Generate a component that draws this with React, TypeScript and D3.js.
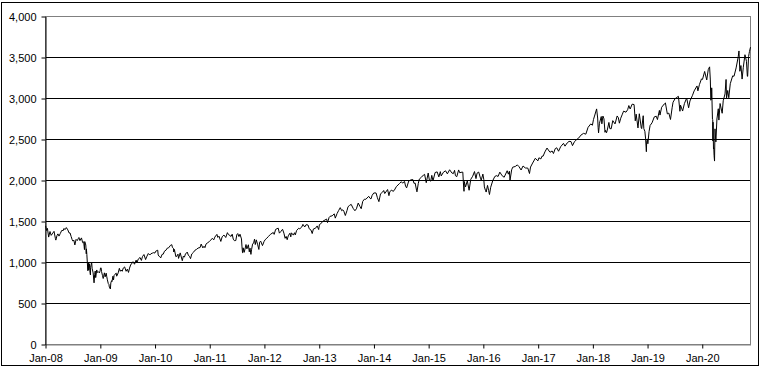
import React, { useRef, useEffect } from "react";
import * as d3 from "d3";

// S&P 500 level: [month-day, value] per year
const y2008: [string, number][] = [
  ["01-02", 1447], ["01-08", 1390], ["01-14", 1416], ["01-22", 1310], ["01-31", 1378],
  ["02-08", 1331], ["02-15", 1349], ["02-27", 1380], ["03-07", 1293], ["03-10", 1273],
  ["03-18", 1330], ["03-24", 1349], ["03-31", 1322], ["04-09", 1355], ["04-18", 1390],
  ["04-29", 1391], ["05-02", 1413], ["05-12", 1403], ["05-19", 1426], ["05-29", 1398],
  ["06-06", 1361], ["06-13", 1360], ["06-20", 1318], ["06-27", 1278], ["07-02", 1261],
  ["07-08", 1273], ["07-15", 1214], ["07-23", 1282], ["07-31", 1267], ["08-08", 1296],
  ["08-11", 1305], ["08-18", 1267], ["08-28", 1300], ["09-05", 1242], ["09-12", 1252],
  ["09-15", 1192], ["09-17", 1157], ["09-19", 1255], ["09-26", 1213], ["09-29", 1106],
  ["09-30", 1166], ["10-03", 1099], ["10-09", 910], ["10-10", 899], ["10-13", 1003],
  ["10-15", 908], ["10-20", 985], ["10-24", 877], ["10-27", 848], ["10-28", 941],
  ["11-04", 1005], ["11-07", 930], ["11-14", 873], ["11-20", 752], ["11-24", 852],
  ["11-28", 896], ["12-01", 816], ["12-08", 909], ["12-12", 879], ["12-19", 887],
  ["12-26", 873], ["12-31", 903],
];
const y2009: [string, number][] = [
  ["01-02", 932], ["01-06", 935], ["01-09", 890], ["01-15", 843], ["01-20", 805],
  ["01-23", 832], ["01-28", 874], ["02-02", 825], ["02-09", 870], ["02-13", 826],
  ["02-17", 789], ["02-23", 743], ["02-27", 735], ["03-02", 700], ["03-09", 677],
  ["03-12", 751], ["03-17", 778], ["03-20", 768], ["03-26", 833], ["03-30", 788],
  ["04-03", 843], ["04-09", 857], ["04-17", 870], ["04-20", 833], ["04-30", 873],
  ["05-08", 929], ["05-14", 893], ["05-19", 908], ["05-27", 893], ["06-03", 932],
  ["06-12", 946], ["06-22", 893], ["06-30", 919], ["07-08", 879], ["07-15", 932],
  ["07-24", 979], ["07-31", 987], ["08-07", 1010], ["08-17", 979], ["08-28", 1029],
  ["09-02", 995], ["09-11", 1042], ["09-23", 1061], ["10-02", 1025], ["10-09", 1071],
  ["10-19", 1097], ["10-30", 1036], ["11-06", 1069], ["11-17", 1110], ["11-27", 1091],
  ["12-04", 1106], ["12-14", 1114], ["12-23", 1120], ["12-31", 1115],
];
const y2010: [string, number][] = [
  ["01-05", 1137], ["01-19", 1150], ["01-22", 1092], ["01-29", 1074], ["02-05", 1066],
  ["02-08", 1056], ["02-17", 1099], ["02-25", 1102], ["03-05", 1138], ["03-15", 1150],
  ["03-23", 1174], ["04-01", 1178], ["04-15", 1211], ["04-23", 1217], ["04-27", 1183],
  ["05-04", 1173], ["05-06", 1128], ["05-10", 1160], ["05-20", 1071], ["05-25", 1074],
  ["06-03", 1102], ["06-07", 1050], ["06-18", 1117], ["06-29", 1041], ["07-02", 1022],
  ["07-09", 1078], ["07-16", 1065], ["07-23", 1103], ["08-04", 1127], ["08-11", 1090],
  ["08-20", 1071], ["08-26", 1047], ["09-03", 1104], ["09-15", 1125], ["09-24", 1149],
  ["10-05", 1160], ["10-15", 1176], ["10-29", 1183], ["11-05", 1225], ["11-16", 1178],
  ["11-24", 1198], ["11-30", 1181], ["12-07", 1224], ["12-15", 1236], ["12-31", 1258],
];
const y2011: [string, number][] = [
  ["01-07", 1271], ["01-18", 1295], ["01-28", 1276], ["02-04", 1310], ["02-18", 1343],
  ["02-24", 1306], ["03-04", 1321], ["03-16", 1257], ["03-25", 1314], ["04-06", 1335],
  ["04-18", 1305], ["04-29", 1364], ["05-06", 1340], ["05-16", 1329], ["05-23", 1317],
  ["05-31", 1345], ["06-07", 1285], ["06-15", 1266], ["06-24", 1268], ["07-01", 1340],
  ["07-07", 1353], ["07-15", 1316], ["07-22", 1345], ["08-01", 1287], ["08-04", 1200],
  ["08-08", 1119], ["08-10", 1121], ["08-12", 1179], ["08-19", 1124], ["08-26", 1177],
  ["08-31", 1219], ["09-06", 1166], ["09-16", 1216], ["09-22", 1130], ["09-27", 1175],
  ["10-03", 1099], ["10-07", 1155], ["10-14", 1224], ["10-21", 1238], ["10-27", 1285],
  ["11-01", 1219], ["11-08", 1276], ["11-17", 1216], ["11-25", 1159], ["11-30", 1247],
  ["12-07", 1261], ["12-19", 1206], ["12-30", 1258],
];
const y2012: [string, number][] = [
  ["01-06", 1278], ["01-13", 1289], ["01-27", 1316], ["02-10", 1343], ["02-29", 1366],
  ["03-06", 1343], ["03-16", 1404], ["04-02", 1419], ["04-10", 1358], ["04-20", 1379],
  ["05-01", 1405], ["05-10", 1358], ["05-18", 1295], ["05-25", 1318], ["06-01", 1278],
  ["06-08", 1325], ["06-19", 1357], ["06-25", 1313], ["06-29", 1362], ["07-12", 1334],
  ["07-20", 1363], ["07-25", 1337], ["08-03", 1391], ["08-17", 1418], ["08-24", 1411],
  ["09-06", 1432], ["09-14", 1465], ["09-26", 1433], ["10-05", 1461], ["10-18", 1457],
  ["10-26", 1411], ["11-07", 1395], ["11-15", 1353], ["11-23", 1409], ["12-07", 1418],
  ["12-18", 1446], ["12-28", 1402],
];
const y2013: [string, number][] = [
  ["01-02", 1462], ["01-11", 1472], ["01-25", 1503], ["02-08", 1518], ["02-19", 1530],
  ["02-25", 1487], ["03-08", 1551], ["03-14", 1563], ["03-28", 1569], ["04-11", 1593],
  ["04-18", 1541], ["04-30", 1597], ["05-10", 1633], ["05-21", 1669], ["05-31", 1631],
  ["06-07", 1643], ["06-14", 1626], ["06-24", 1573], ["07-05", 1632], ["07-12", 1680],
  ["07-22", 1696], ["08-02", 1709], ["08-15", 1661], ["08-27", 1631], ["09-06", 1655],
  ["09-18", 1725], ["09-30", 1682], ["10-08", 1656], ["10-18", 1745], ["10-29", 1772],
  ["11-08", 1771], ["11-27", 1807], ["12-05", 1785], ["12-12", 1775], ["12-20", 1819],
  ["12-31", 1848],
];
const y2014: [string, number][] = [
  ["01-15", 1848], ["01-24", 1790], ["02-03", 1742], ["02-14", 1838], ["02-28", 1859],
  ["03-07", 1878], ["03-14", 1841], ["04-02", 1890], ["04-11", 1815], ["04-17", 1865],
  ["04-30", 1884], ["05-07", 1867], ["05-16", 1878], ["05-30", 1924], ["06-20", 1963],
  ["07-03", 1985], ["07-11", 1968], ["07-24", 1988], ["07-31", 1931], ["08-07", 1910],
  ["08-21", 1993], ["09-05", 2008], ["09-18", 2011], ["09-25", 1966], ["10-03", 1968],
  ["10-13", 1875], ["10-15", 1862], ["10-24", 1965], ["10-31", 2018], ["11-14", 2040],
  ["11-28", 2068], ["12-05", 2075], ["12-16", 1973], ["12-29", 2091],
];
const y2015: [string, number][] = [
  ["01-06", 2003], ["01-15", 1992], ["01-22", 2063], ["01-30", 1995], ["02-13", 2097],
  ["02-27", 2105], ["03-10", 2044], ["03-20", 2108], ["03-26", 2056], ["04-10", 2102],
  ["04-24", 2118], ["05-06", 2081], ["05-21", 2131], ["06-05", 2092], ["06-15", 2084],
  ["06-23", 2124], ["06-29", 2058], ["07-08", 2047], ["07-20", 2129], ["07-28", 2093],
  ["08-05", 2100], ["08-17", 2102], ["08-21", 1971], ["08-25", 1868], ["08-27", 1988],
  ["09-04", 1921], ["09-16", 1996], ["09-28", 1881], ["10-09", 2014], ["10-22", 2052],
  ["11-03", 2109], ["11-13", 2023], ["11-20", 2089], ["12-01", 2103], ["12-14", 2021],
  ["12-18", 2005], ["12-29", 2078],
];
const y2016: [string, number][] = [
  ["01-04", 2012], ["01-08", 1922], ["01-15", 1880], ["01-20", 1859], ["01-29", 1940],
  ["02-05", 1880], ["02-11", 1829], ["02-19", 1917], ["03-04", 1999], ["03-18", 2050],
  ["03-31", 2060], ["04-08", 2048], ["04-20", 2102], ["05-06", 2057], ["05-19", 2040],
  ["06-08", 2119], ["06-16", 2077], ["06-23", 2113], ["06-27", 2001], ["07-08", 2130],
  ["07-15", 2162], ["08-01", 2171], ["08-15", 2190], ["08-26", 2169], ["09-09", 2128],
  ["09-22", 2177], ["10-07", 2153], ["10-24", 2151], ["11-04", 2085], ["11-11", 2164],
  ["11-25", 2213], ["12-13", 2271], ["12-30", 2239],
];
const y2017: [string, number][] = [
  ["01-06", 2277], ["01-19", 2263], ["01-26", 2296], ["02-03", 2297], ["02-15", 2349],
  ["03-01", 2396], ["03-10", 2372], ["03-21", 2344], ["04-04", 2360], ["04-13", 2329],
  ["04-25", 2389], ["05-05", 2399], ["05-17", 2357], ["05-31", 2412], ["06-09", 2432],
  ["06-19", 2453], ["06-29", 2419], ["07-14", 2459], ["07-26", 2477], ["08-08", 2475],
  ["08-18", 2425], ["08-31", 2472], ["09-15", 2500], ["09-29", 2519], ["10-13", 2553],
  ["10-31", 2575], ["11-15", 2565], ["11-30", 2648], ["12-18", 2690], ["12-29", 2674],
];
const y2018: [string, number][] = [
  ["01-05", 2743], ["01-12", 2786], ["01-26", 2873], ["02-02", 2762], ["02-05", 2649],
  ["02-08", 2581], ["02-14", 2698], ["02-26", 2780], ["03-02", 2691], ["03-09", 2786],
  ["03-16", 2752], ["03-23", 2588], ["03-27", 2612], ["04-02", 2582], ["04-06", 2605],
  ["04-18", 2708], ["04-24", 2634], ["05-03", 2630], ["05-14", 2730], ["05-29", 2690],
  ["06-12", 2787], ["06-20", 2767], ["06-27", 2699], ["07-06", 2760], ["07-17", 2809],
  ["07-25", 2846], ["08-10", 2833], ["08-21", 2863], ["08-29", 2914], ["09-07", 2872],
  ["09-20", 2931], ["10-03", 2926], ["10-11", 2728], ["10-17", 2809], ["10-29", 2641],
  ["11-07", 2814], ["11-20", 2641], ["11-23", 2633], ["12-03", 2790], ["12-07", 2633],
  ["12-14", 2600], ["12-19", 2507], ["12-24", 2351], ["12-26", 2468], ["12-31", 2507],
];
const y2019: [string, number][] = [
  ["01-03", 2448], ["01-11", 2596], ["01-18", 2671], ["01-31", 2704], ["02-15", 2776],
  ["02-28", 2784], ["03-08", 2743], ["03-21", 2855], ["03-25", 2798], ["04-05", 2893],
  ["04-23", 2934], ["04-30", 2946], ["05-13", 2812], ["05-23", 2822], ["06-03", 2744],
  ["06-14", 2887], ["06-20", 2954], ["07-03", 2996], ["07-15", 3014], ["07-26", 3026],
  ["08-05", 2844], ["08-09", 2919], ["08-23", 2847], ["09-04", 2938], ["09-19", 3006],
  ["10-02", 2887], ["10-11", 2970], ["10-28", 3039], ["11-08", 3093], ["11-27", 3153],
  ["12-03", 3093], ["12-13", 3169], ["12-27", 3240], ["12-31", 3231],
];
const y2020: [string, number][] = [
  ["01-03", 3235], ["01-17", 3330], ["01-31", 3226], ["02-10", 3352], ["02-19", 3386],
  ["02-24", 3226], ["02-27", 2979], ["03-03", 3003], ["03-04", 3130], ["03-09", 2747],
  ["03-11", 2741], ["03-12", 2481], ["03-13", 2711], ["03-16", 2386], ["03-18", 2398],
  ["03-20", 2305], ["03-23", 2237], ["03-26", 2630], ["04-01", 2471], ["04-08", 2750],
  ["04-17", 2875], ["04-21", 2737], ["04-29", 2939], ["05-13", 2820], ["05-20", 2972],
  ["06-01", 3056], ["06-08", 3232], ["06-11", 3002], ["06-19", 3098], ["06-26", 3009],
  ["07-06", 3180], ["07-22", 3276], ["07-31", 3271], ["08-14", 3373], ["08-28", 3508],
  ["09-02", 3580], ["09-08", 3332], ["09-15", 3402], ["09-23", 3237], ["10-01", 3381],
  ["10-12", 3534], ["10-22", 3453], ["10-28", 3271], ["10-30", 3270], ["11-05", 3510],
  ["11-09", 3551], ["11-11", 3572], ["11-18", 3626],
];

const years = [2008, 2009, 2010, 2011, 2012, 2013, 2014, 2015, 2016, 2017, 2018, 2019, 2020];
const yearData = [y2008, y2009, y2010, y2011, y2012, y2013, y2014, y2015, y2016, y2017, y2018, y2019, y2020];
const yTicks = [0, 500, 1000, 1500, 2000, 2500, 3000, 3500, 4000];

const parse = d3.timeParse("%Y-%m-%d");
const series = yearData.flatMap((rows, i) =>
  rows.map(([md, v]) => ({ date: parse(`${years[i]}-${md}`) as Date, value: v }))
);

const width = 762;
const height = 368;
const margin = { top: 16, right: 11.5, bottom: 24, left: 45 };
const font = "Arial, 'Liberation Sans', sans-serif";

const App = () => {
  const svgRef = useRef<SVGSVGElement>(null);

  useEffect(() => {
    const svg = d3.select(svgRef.current);
    svg.selectAll("*").remove();

    const x0 = margin.left + 0.5;
    const x1 = width - margin.right;
    const yBottom = height - margin.bottom + 0.5;
    const yTop = margin.top + 0.5;

    const xScale = d3
      .scaleTime()
      .domain([new Date(2008, 0, 1), series[series.length - 1].date])
      .range([x0, x1]);

    const yScale = d3.scaleLinear().domain([0, 4000]).range([yBottom, yTop]);

    // outer frame
    svg
      .append("rect")
      .attr("x", 1.5)
      .attr("y", 2.5)
      .attr("width", 757)
      .attr("height", 363)
      .attr("fill", "none")
      .attr("stroke", "#000");

    // gridlines
    svg
      .append("g")
      .selectAll("line")
      .data(yTicks.filter((t) => t > 0 && t < 4000))
      .join("line")
      .attr("x1", x0)
      .attr("x2", x1)
      .attr("y1", (d) => yScale(d))
      .attr("y2", (d) => yScale(d))
      .attr("stroke", "#000")
      .attr("stroke-width", 1);

    // plot area border
    svg
      .append("rect")
      .attr("x", x0)
      .attr("y", yTop)
      .attr("width", x1 - x0)
      .attr("height", yBottom - yTop)
      .attr("fill", "none")
      .attr("stroke", "#808080");

    // y axis
    const yAxis = d3
      .axisLeft(yScale)
      .tickValues(yTicks)
      .tickSize(4)
      .tickSizeOuter(0)
      .tickPadding(5)
      .tickFormat((d) => d3.format(",")(d as number));
    const yg = svg.append("g").attr("transform", `translate(${x0},0)`).call(yAxis);
    yg.select(".domain").attr("stroke", "#000");
    yg.selectAll("line").attr("stroke", "#000");
    yg.selectAll("text").attr("fill", "#000").style("font-family", font).style("font-size", "11px");

    // x axis
    const xAxis = d3
      .axisBottom(xScale)
      .tickValues(years.map((y) => new Date(y, 0, 1)))
      .tickSize(4)
      .tickSizeOuter(0)
      .tickPadding(5.5)
      .tickFormat((d) => d3.timeFormat("%b-%y")(d as Date));
    const xg = svg.append("g").attr("transform", `translate(0,${yBottom})`).call(xAxis);
    xg.select(".domain").attr("stroke", "#808080");
    xg.selectAll("line").attr("stroke", "#000");
    xg.selectAll("text").attr("fill", "#000").style("font-family", font).style("font-size", "11px");

    // series line
    const line = d3
      .line<{ date: Date; value: number }>()
      .x((d) => xScale(d.date))
      .y((d) => yScale(d.value));

    svg
      .append("path")
      .datum(series)
      .attr("d", line)
      .attr("fill", "none")
      .attr("stroke", "#000")
      .attr("stroke-width", 1)
      .attr("stroke-linejoin", "round");
  }, []);

  return (
    <svg
      ref={svgRef}
      width={width}
      height={height}
      style={{ position: "absolute", left: 0, top: 0, background: "#fff" }}
    />
  );
};

export default App;
